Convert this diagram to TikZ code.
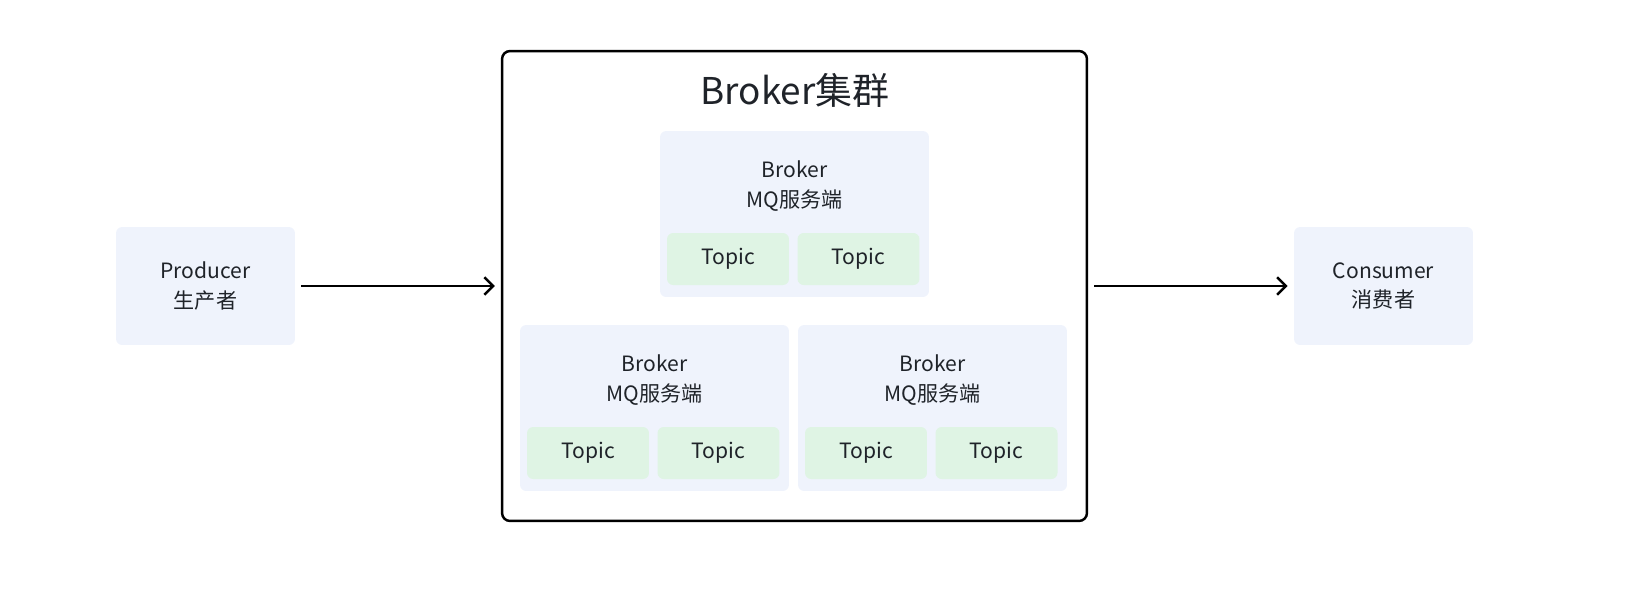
\documentclass[tikz,border=0pt]{standalone}
\usepackage{fontspec}
\setmainfont{Noto Sans CJK SC}
\usepackage{xcolor}
\usetikzlibrary{arrows.meta}

\definecolor{txtcol}{HTML}{1F2329}
\definecolor{brokerfill}{HTML}{EFF3FC}
\definecolor{topicfill}{HTML}{DFF4E4}

\begin{document}
\begin{tikzpicture}[x=0.02cm,y=-0.02cm,
  txt/.style={text=txtcol,align=center,font=\fontsize{12}{17}\selectfont},
  client/.style={txt,fill=brokerfill,rounded corners=3.5pt,minimum width=3.58cm,minimum height=2.36cm,inner sep=0pt},
  broker/.style={fill=brokerfill,rounded corners=3.5pt,minimum width=5.38cm,minimum height=3.32cm,inner sep=0pt},
  topic/.style={txt,fill=topicfill,rounded corners=3.5pt,minimum width=2.44cm,minimum height=1.04cm,inner sep=0pt},
  flow/.style={->,>={Straight Barb[length=5pt,width=10pt]},line width=1.4pt,shorten <=3.4pt,shorten >=3.4pt}]
\useasboundingbox (0,0) rectangle (1650,606);

\node[client] (prod) at (205.5,286) {Producer\\生产者};
\node[client] (cons) at (1383.5,286) {Consumer\\消费者};

\node[draw,line width=1.4pt,rounded corners=4.5pt,minimum width=11.7cm,minimum height=9.4cm,inner sep=0pt] (cluster) at (794.5,286) {};
\node[txt,font=\fontsize{21}{25}\selectfont] (title) at (795,90) {Broker集群};

\node[broker] (b1) at (794.5,214) {};
\node[txt] (b1t) at (794.5,186) {Broker\\MQ服务端};
\node[topic] (t11) at (728,259) {Topic};
\node[topic] (t12) at (858.5,259) {Topic};

\node[broker] (b2) at (654.5,408) {};
\node[txt] (b2t) at (654.5,380) {Broker\\MQ服务端};
\node[topic] (t21) at (588,453) {Topic};
\node[topic] (t22) at (718.5,453) {Topic};

\node[broker] (b3) at (932.5,408) {};
\node[txt] (b3t) at (932.5,380) {Broker\\MQ服务端};
\node[topic] (t31) at (866,453) {Topic};
\node[topic] (t32) at (996.5,453) {Topic};

\draw[flow] (prod) -- (cluster);
\draw[flow] (cluster) -- (cons);

\end{tikzpicture}
\end{document}
